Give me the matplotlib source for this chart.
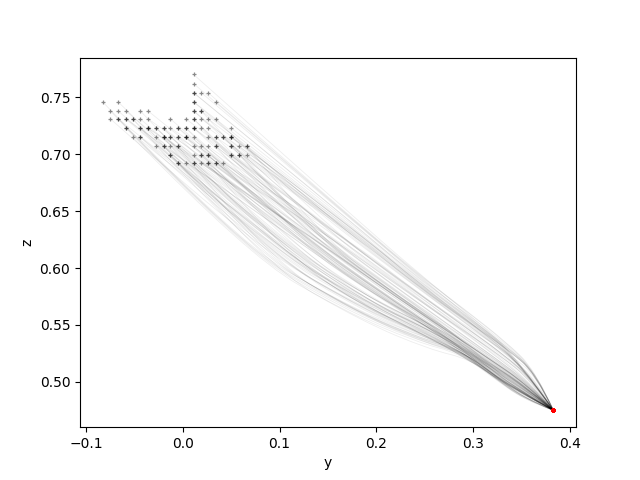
import matplotlib
matplotlib.use("Agg")
import matplotlib.pyplot as plt
from matplotlib.path import Path
from matplotlib.patches import PathPatch

# grid coordinates of the start cells (y values by column, z values by row)
col_y = [-0.083, -0.075, -0.067, -0.059, -0.052, -0.044, -0.036, -0.028, -0.020, -0.013,
         -0.005, 0.003, 0.011, 0.019, 0.026, 0.034, 0.042, 0.050, 0.058, 0.066]
row_z = [0.770, 0.762, 0.754, 0.746, 0.738, 0.731, 0.723, 0.715, 0.707, 0.699, 0.692]

# start cells: (row, column, routes taken by the trajectories starting there)
starts = [
    (0, 12, "7"),
    (1, 12, "6"),
    (2, 12, "67"), (2, 13, "7"), (2, 14, "6"),
    (3, 0, "0"), (3, 2, "1"), (3, 12, "56"), (3, 15, "7"),
    (4, 1, "0"), (4, 2, "8"), (4, 3, "2"), (4, 5, "1"), (4, 6, "3"), (4, 12, "45"), (4, 13, "69"),
    (5, 1, "1"), (5, 2, "02"), (5, 3, "38"), (5, 4, "01"), (5, 5, "2"), (5, 6, "4"), (5, 9, "3"),
    (5, 11, "5"), (5, 12, "39"), (5, 13, "6"), (5, 14, "7"), (5, 15, "4"),
    (6, 3, "08"), (6, 5, "12"), (6, 6, "034"), (6, 7, "28"), (6, 8, "31"), (6, 9, "5"), (6, 10, "49"),
    (6, 11, "23"), (6, 12, "345"), (6, 13, "9"), (6, 14, "6"), (6, 17, "7"),
    (7, 4, "0"), (7, 5, "18"), (7, 7, "2"), (7, 8, "340"), (7, 9, "39"), (7, 10, "25"), (7, 11, "348"),
    (7, 12, "4"), (7, 14, "5"), (7, 15, "36"), (7, 16, "94"), (7, 17, "567"),
    (8, 7, "1"), (8, 8, "38"), (8, 9, "2"), (8, 10, "40"), (8, 12, "3"), (8, 13, "9"), (8, 14, "5"),
    (8, 15, "42"), (8, 17, "36"), (8, 18, "7"), (8, 19, "59"),
    (9, 9, "18"), (9, 12, "3"), (9, 13, "24"), (9, 14, "39"), (9, 17, "45"), (9, 18, "36"), (9, 19, "7"),
    (10, 10, "01"), (10, 11, "2"), (10, 12, "38"), (10, 13, "4"), (10, 14, "19"), (10, 15, "35"), (10, 16, "6"),
]

# common end point
end_y, end_z = 0.383, 0.475

# route waypoints (y, z)
routes = [
    [(0.09, 0.615), (0.187, 0.565), (0.256, 0.538), (0.298, 0.527), (0.330, 0.504), (0.355, 0.486)],
    [(0.10, 0.620), (0.20, 0.568), (0.26, 0.545), (0.30, 0.526), (0.34, 0.498)],
    [(0.11, 0.628), (0.20, 0.575), (0.27, 0.545), (0.32, 0.515), (0.352, 0.496)],
    [(0.12, 0.635), (0.20, 0.585), (0.256, 0.553), (0.31, 0.522), (0.35, 0.500)],
    [(0.13, 0.638), (0.21, 0.588), (0.27, 0.552), (0.32, 0.522), (0.355, 0.500)],
    [(0.14, 0.640), (0.22, 0.590), (0.28, 0.554), (0.33, 0.524), (0.36, 0.502)],
    [(0.15, 0.642), (0.23, 0.588), (0.29, 0.553), (0.33, 0.530), (0.362, 0.508)],
    [(0.16, 0.636), (0.24, 0.582), (0.30, 0.546), (0.345, 0.516)],
    [(0.10, 0.630), (0.19, 0.575), (0.25, 0.548), (0.30, 0.523), (0.34, 0.497)],
    [(0.12, 0.630), (0.21, 0.578), (0.27, 0.543), (0.319, 0.508), (0.352, 0.490)],
]

# how much of its start offset a trajectory keeps along its route
ref_y, ref_z = 0.0, 0.725
memory = 0.5

fig, ax = plt.subplots(figsize=(6.4, 4.8), dpi=100)


def smooth_path(points):
    verts = [points[0]]
    codes = [Path.MOVETO]
    for i in range(1, len(points) - 1):
        ctrl = points[i]
        nxt = points[i + 1]
        if i + 1 == len(points) - 1:
            endp = nxt
        else:
            endp = ((ctrl[0] + nxt[0]) / 2, (ctrl[1] + nxt[1]) / 2)
        verts += [ctrl, endp]
        codes += [Path.CURVE3, Path.CURVE3]
    return Path(verts, codes)


for r, c, rts in starts:
    sy, sz = col_y[c], row_z[r]
    dy, dz = sy - ref_y, sz - ref_z
    for ch in rts:
        wp = routes[int(ch)]
        n = len(wp)
        moved = []
        for k, (wy, wz) in enumerate(wp):
            w = memory * (n - k) / (n + 1)
            moved.append((wy + dy * w, wz + dz * w))
        pts = [(sy, sz)] + moved + [(end_y, end_z)]
        patch = PathPatch(smooth_path(pts), facecolor="none", edgecolor="k",
                          alpha=0.07, lw=0.6, zorder=1)
        ax.add_patch(patch)

for r, c, rts in starts:
    for ch in rts:
        ax.plot(col_y[c], row_z[r], "+", color="k", alpha=0.45, ms=2.8, mew=0.9, zorder=3)
        ax.plot(end_y, end_z, "+", color="r", alpha=0.5, ms=3.5, mew=2, zorder=3)

ax.set_xlabel("y")
ax.set_ylabel("z")
fig.savefig("out.png", dpi=100)
